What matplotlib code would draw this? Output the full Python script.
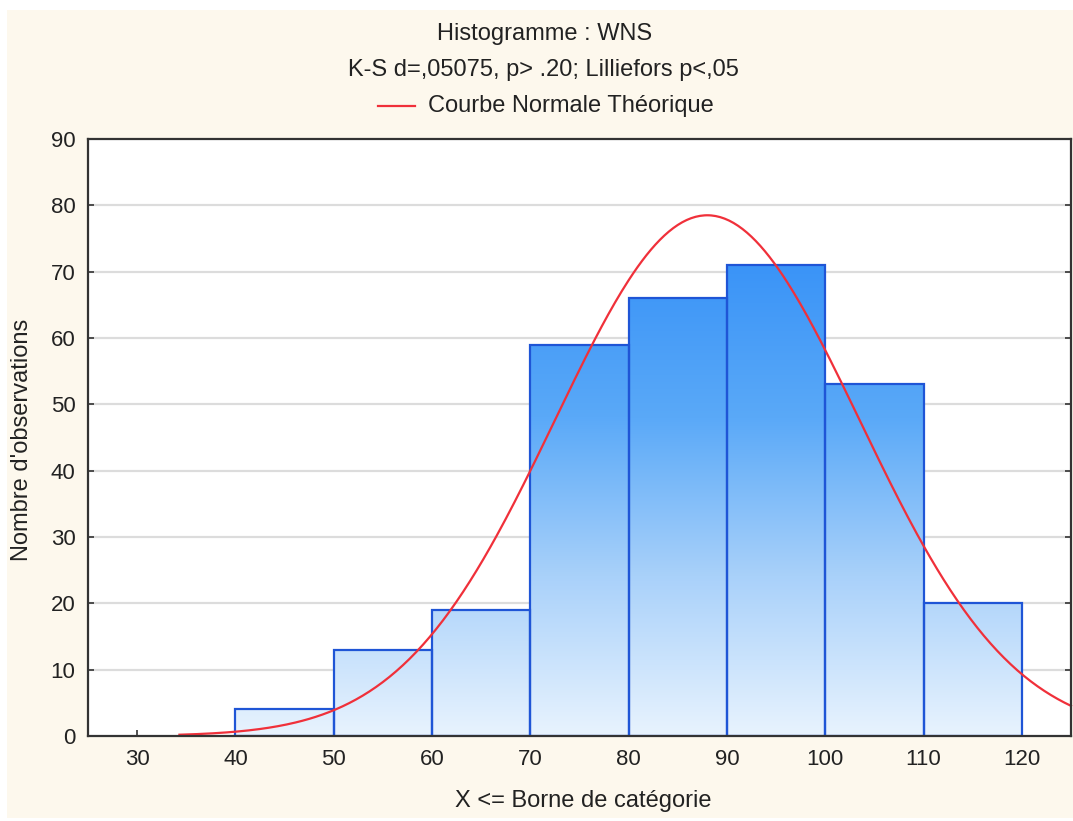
import numpy as np
import matplotlib
matplotlib.use("Agg")
import matplotlib.pyplot as plt
from matplotlib.patches import Rectangle
from matplotlib.lines import Line2D
from matplotlib.colors import LinearSegmentedColormap

plt.rcParams['font.family'] = ['Liberation Sans', 'DejaVu Sans']

# Data
bin_edges = [40, 50, 60, 70, 80, 90, 100, 110, 120]
counts = [4, 13, 19, 59, 66, 71, 53, 20]
x_ticks = [30, 40, 50, 60, 70, 80, 90, 100, 110, 120]
y_ticks = [0, 10, 20, 30, 40, 50, 60, 70, 80, 90]
fit_mean = 88.0
fit_sd = 15.5
curve_start = 34.3

title1 = "Histogramme : WNS"
title2 = "K-S d=,05075, p> .20; Lilliefors p<,05"
legend_label = "Courbe Normale Théorique"
xlabel = "X <= Borne de catégorie"
ylabel = "Nombre d'observations"

W, H = 1073, 821
fig = plt.figure(figsize=(W / 100, H / 100), dpi=100)
fig.patch.set_facecolor('white')
fig.patches.append(Rectangle((7 / W, 3 / H), (W - 7) / W, (H - 13) / H,
                             transform=fig.transFigure, facecolor='#fdf8ed',
                             edgecolor='none', zorder=-10))

ax = fig.add_axes([88 / W, (H - 736) / H, (1071 - 88) / W, (736 - 139) / H])
ax.set_facecolor('white')

# gridlines
for y in y_ticks[1:-1]:
    ax.axhline(y, color='#dcdcdc', lw=1.6, zorder=1)

grad = np.linspace(0, 1, 256).reshape(-1, 1)
cmap = LinearSegmentedColormap.from_list('g', ['#e8f3fe', '#a9d1fa', '#5aa9f8', '#3993f7'])
N = sum(counts)
widths = np.diff(bin_edges)
for left, w, c in zip(bin_edges[:-1], widths, counts):
    rect = Rectangle((left, 0), w, c, facecolor='none', edgecolor='#1f55d6', lw=1.6, zorder=4)
    ax.add_patch(rect)
    im = ax.imshow(grad, extent=[25, 125, 0, 72], origin='lower', cmap=cmap,
                   aspect='auto', zorder=3, interpolation='bilinear')
    im.set_clip_path(rect)
ax.set_xlim(25, 125)
ax.set_ylim(0, 90)

# normal curve
xs = np.linspace(curve_start, 125, 400)
bw = widths[0]
ys = N * bw / (fit_sd * np.sqrt(2 * np.pi)) * np.exp(-0.5 * ((xs - fit_mean) / fit_sd) ** 2)
ax.plot(xs, ys, color='#f0303a', lw=1.6, zorder=5, clip_on=False)

for s in ax.spines.values():
    s.set_color('#333333')
    s.set_linewidth(1.6)
    s.set_zorder(6)

ax.set_xticks(x_ticks)
ax.set_yticks(y_ticks)
ax.tick_params(direction='in', length=4, width=1.2, color='#333333',
               labelsize=16, labelcolor='#222222', right=True, top=False)
ax.tick_params(axis='x', pad=9)
ax.tick_params(axis='y', pad=9)

fs = 17
fig.text(545 / W, 1 - 34 / H, title1, ha='center', va='center', fontsize=fs, color='#222222')
fig.text(543 / W, 1 - 70 / H, title2, ha='center', va='center', fontsize=fs, color='#222222')
fig.text(428 / W, 1 - 106 / H, legend_label, ha='left', va='center', fontsize=fs, color='#222222')
fig.lines.append(Line2D([378 / W, 415 / W], [1 - 106 / H, 1 - 106 / H], transform=fig.transFigure,
                        color='#f0303a', lw=1.6))
fig.text(583 / W, 1 - 801 / H, xlabel, ha='center', va='center', fontsize=fs, color='#222222')
fig.text(22 / W, 1 - 440 / H, ylabel, ha='center', va='center', rotation=90, fontsize=fs, color='#222222')

fig.savefig('out.png', dpi=100, facecolor=fig.get_facecolor())
